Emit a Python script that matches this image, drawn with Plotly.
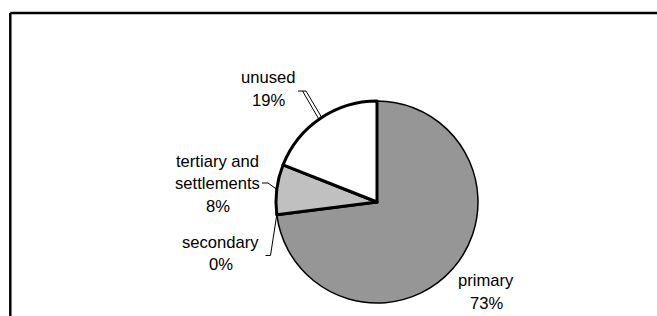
import math
import plotly.graph_objects as go

# ---- data ----
categories = ["primary", "secondary", "tertiary and settlements", "unused"]
values = [73, 0, 8, 19]
label_lines = [["primary"], ["secondary"], ["tertiary and", "settlements"], ["unused"]]
colors = ["#969696", "#969696", "#C0C0C0", "#FFFFFF"]

# ---- layout constants (pixels) ----
W, H = 657, 316
CX, CY, R = 377, 202, 101
FONT = dict(family="Liberation Sans, Arial, sans-serif", size=16.6, color="black")
LINE_GAP = 22.5

def px(x):
    return x / W

def py(y):
    return 1 - y / H

total = sum(values)
cum = []
c = 0
for v in values:
    cum.append((c, c + v))
    c += v

def edge_point(frac):
    th = 2 * math.pi * frac / total
    return CX + R * math.sin(th), CY - R * math.cos(th)

fig = go.Figure()
fig.add_trace(go.Pie(
    labels=categories,
    values=values,
    sort=False,
    direction="clockwise",
    rotation=0,
    textinfo="none",
    hoverinfo="label+percent",
    showlegend=False,
    marker=dict(colors=colors, line=dict(color="black", width=[1.5, 3, 3, 3])),
    domain=dict(x=[px(CX - R), px(CX + R)], y=[py(CY + R), py(CY - R)]),
))

# label anchor positions (center x, first-line center y) in pixels
label_pos = {
    "primary": (486, 280.5),
    "secondary": (220.5, 242),
    "tertiary and settlements": (217.5, 161),
    "unused": (268, 77.5),
}

annotations = []
for cat, lines, v in zip(categories, label_lines, values):
    x0, y0 = label_pos[cat]
    all_lines = lines + [f"{v}%"]
    for i, t in enumerate(all_lines):
        annotations.append(dict(
            x=px(x0), y=py(y0 + i * LINE_GAP), xref="paper", yref="paper",
            text=t, showarrow=False, xanchor="center", yanchor="middle", font=FONT,
        ))

shapes = []
def seg(pts, width=1):
    for (a, b), (c2, d) in zip(pts[:-1], pts[1:]):
        shapes.append(dict(type="line", xref="paper", yref="paper",
                           x0=px(a), y0=py(b), x1=px(c2), y1=py(d),
                           line=dict(color="black", width=width)))

# leader lines, pie end computed from slice angles
ex, ey = edge_point((cum[3][0] + cum[3][1]) / 2)
seg([(298, 91), (306, 91)])
seg([(302.5, 91), (ex - 1.5, ey + 0.5)])
seg([(306, 91), (ex + 1.5, ey - 1)])
ex, ey = edge_point((cum[2][0] + cum[2][1]) / 2)
seg([(262, 183), (268, 183), (ex, ey)])
ex, ey = edge_point((cum[1][0] + cum[1][1]) / 2)
seg([(ex, ey), (270.5, 255.5), (265.5, 255.5)])

# chart frame (only top and left edges are inside the view)
seg([(10.3, H + 5), (10.3, 13), (W + 5, 13)], width=2.5)

fig.update_layout(
    width=W, height=H,
    margin=dict(l=0, r=0, t=0, b=0),
    paper_bgcolor="white", plot_bgcolor="white",
    annotations=annotations, shapes=shapes,
)
fig.write_html(
    "out.html",
    config={"displayModeBar": False},
    post_script="document.body.style.margin='0';document.body.style.overflow='hidden';",
)
